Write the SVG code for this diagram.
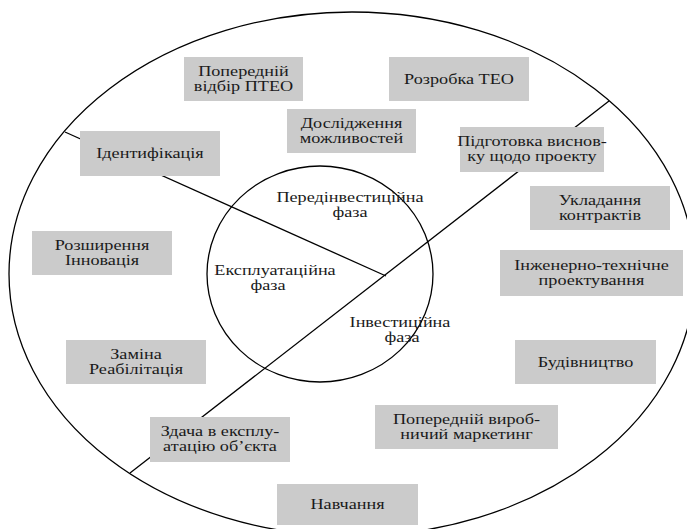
<svg xmlns="http://www.w3.org/2000/svg" width="687" height="529" viewBox="0 0 687 529">
<style>
.box{fill:#cbcbcb;}
.ln{fill:none;stroke:#000;stroke-width:1.3;}
text{font-family:"Liberation Serif","Times New Roman",serif;font-size:14px;fill:#1a1a1a;text-anchor:middle;}
</style>
<rect width="687" height="529" fill="#fff"/>
<g id="connectors">
<ellipse class="ln" cx="352" cy="274" rx="343" ry="262"/>
<line class="ln" x1="65" y1="132" x2="386" y2="276"/>
<line class="ln" x1="609" y1="101" x2="130" y2="473"/>
<ellipse class="ln" cx="320" cy="274" rx="113" ry="108"/>
</g>
<g id="phase-pre"><text transform="translate(350,202) scale(1.3,1)">Передінвестиційна</text><text transform="translate(350,217) scale(1.3,1)">фаза</text></g>
<g id="phase-exp"><text transform="translate(275,275) scale(1.3,1)">Експлуатаційна</text><text transform="translate(268,290) scale(1.3,1)">фаза</text></g>
<g id="phase-inv"><text transform="translate(400,327) scale(1.3,1)">Інвестиційна</text><text transform="translate(402,342) scale(1.3,1)">фаза</text></g>
<g id="n1"><rect class="box" x="184" y="57" width="119" height="44"/><text transform="translate(243.5,76) scale(1.3,1)">Попередній</text><text transform="translate(243.5,91) scale(1.3,1)">відбір ПТЕО</text></g>
<g id="n2"><rect class="box" x="389" y="57" width="140" height="44"/><text transform="translate(459,84) scale(1.3,1)">Розробка ТЕО</text></g>
<g id="n3"><rect class="box" x="287" y="109" width="129" height="44"/><text transform="translate(351.5,128) scale(1.3,1)">Дослідження</text><text transform="translate(351.5,143) scale(1.3,1)">можливостей</text></g>
<g id="n4"><rect class="box" x="80" y="131" width="140" height="45"/><text transform="translate(150,158) scale(1.3,1)">Ідентифікація</text></g>
<g id="n5"><rect class="box" x="460" y="127" width="144" height="45"/><text transform="translate(532,146) scale(1.3,1)">Підготовка виснов-</text><text transform="translate(532,161) scale(1.3,1)">ку щодо проекту</text></g>
<g id="n6"><rect class="box" x="530" y="186" width="140" height="44"/><text transform="translate(600,205) scale(1.3,1)">Укладання</text><text transform="translate(600,220) scale(1.3,1)">контрактів</text></g>
<g id="n7"><rect class="box" x="32" y="231" width="140" height="44"/><text transform="translate(102,250) scale(1.3,1)">Розширення</text><text transform="translate(102,265) scale(1.3,1)">Інновація</text></g>
<g id="n8"><rect class="box" x="500" y="250" width="183" height="46"/><text transform="translate(591.5,270) scale(1.3,1)">Інженерно-технічне</text><text transform="translate(591.5,285) scale(1.3,1)">проектування</text></g>
<g id="n9"><rect class="box" x="66" y="340" width="140" height="44"/><text transform="translate(136,359) scale(1.3,1)">Заміна</text><text transform="translate(136,374) scale(1.3,1)">Реабілітація</text></g>
<g id="n10"><rect class="box" x="515" y="340" width="141" height="44"/><text transform="translate(585.5,367) scale(1.3,1)">Будівництво</text></g>
<g id="n11"><rect class="box" x="375" y="405" width="183" height="44"/><text transform="translate(466.5,424) scale(1.3,1)">Попередній вироб-</text><text transform="translate(466.5,439) scale(1.3,1)">ничий маркетинг</text></g>
<g id="n12"><rect class="box" x="150" y="417" width="140" height="45"/><text transform="translate(220,436) scale(1.3,1)">Здача в експлу-</text><text transform="translate(220,451) scale(1.3,1)">атацію об’єкта</text></g>
<g id="n13"><rect class="box" x="277" y="484" width="141" height="41"/><text transform="translate(347.5,509) scale(1.3,1)">Навчання</text></g>
</svg>
